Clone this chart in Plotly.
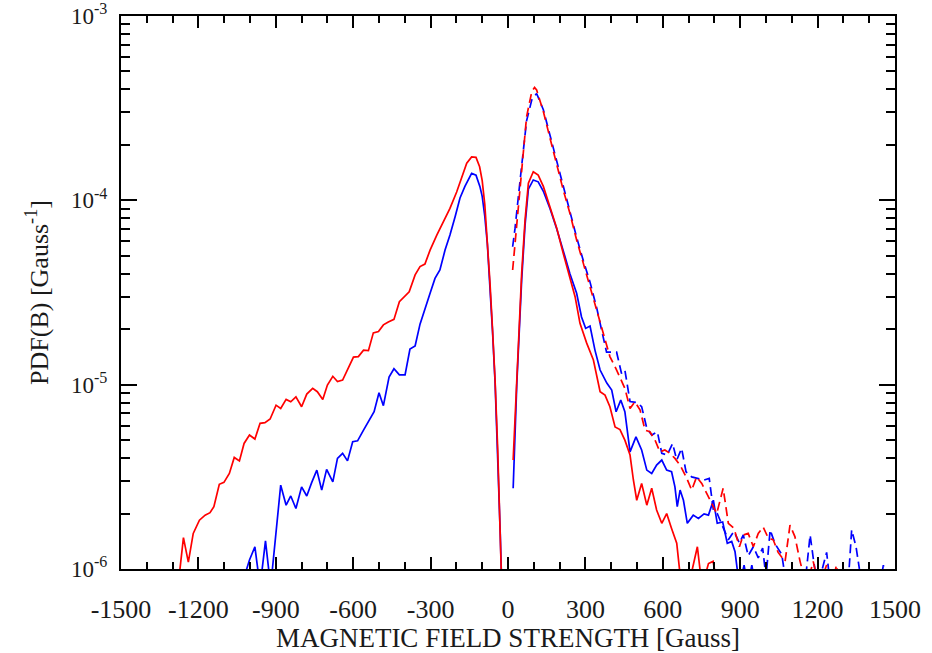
import plotly.graph_objects as go

# ---------------- data ----------------
# solid red: negative-field branch
red_neg_b = [-1275, -1258, -1239, -1220, -1196, -1174, -1155, -1140, -1119, -1101,
             -1080, -1061, -1041, -1023, -1002, -981, -961, -942, -922, -899,
             -881, -860, -842, -822, -800, -780, -757, -739, -718, -700,
             -679, -661, -641, -619, -599, -580, -560, -541, -522, -502,
             -483, -464, -442, -421, -403, -383, -360, -341, -322, -302,
             -276, -250, -225, -199, -179, -160, -141, -124, -110, -100,
             -90, -80, -70, -60, -50, -40, -30, -20]
red_neg_pdf = [9e-7, 1.48e-6, 1.09e-6, 1.56e-6, 1.84e-6, 1.96e-6, 2.02e-6, 2.18e-6, 2.88e-6, 2.95e-6,
               3.30e-6, 4.03e-6, 3.86e-6, 4.80e-6, 5.33e-6, 5.07e-6, 6.17e-6, 6.22e-6, 6.51e-6, 7.74e-6,
               7.43e-6, 8.32e-6, 8.07e-6, 8.59e-6, 7.59e-6, 8.89e-6, 9.55e-6, 9.16e-6, 8.32e-6, 9.95e-6,
               1.11e-5, 1.04e-5, 1.06e-5, 1.23e-5, 1.41e-5, 1.42e-5, 1.54e-5, 1.53e-5, 1.91e-5, 1.94e-5,
               2.11e-5, 2.19e-5, 2.26e-5, 2.82e-5, 3.00e-5, 3.19e-5, 3.94e-5, 4.37e-5, 4.51e-5, 5.37e-5,
               6.48e-5, 7.66e-5, 9.04e-5, 1.11e-4, 1.32e-4, 1.59e-4, 1.72e-4, 1.71e-4, 1.52e-4, 1.28e-4,
               9.5e-5, 6.2e-5, 3.6e-5, 2.0e-5, 1.05e-5, 4.5e-6, 1.6e-6, 5e-7]

# solid red: positive-field branch
red_pos_b = [20, 34, 53, 66, 79, 98, 117, 137, 163, 189,
             214, 240, 260, 279, 305, 331, 357, 376, 395, 415,
             434, 453, 473, 486, 499, 518, 538, 557, 576, 596,
             615, 634, 654, 672, 699, 734, 752, 777, 795, 812]
red_pos_pdf = [3.9e-6, 1.15e-5, 4.02e-5, 7.8e-5, 1.24e-4, 1.43e-4, 1.37e-4, 1.19e-4, 9.2e-5, 7.05e-5,
               5.16e-5, 3.85e-5, 3.0e-5, 2.15e-5, 1.68e-5, 1.36e-5, 9.16e-6, 8.77e-6, 7.59e-6, 5.90e-6,
               5.71e-6, 5.0e-6, 4.15e-6, 3.04e-6, 2.36e-6, 2.91e-6, 2.22e-6, 2.74e-6, 2.09e-6, 1.77e-6,
               2.0e-6, 1.66e-6, 1.38e-6, 8e-7, 8e-7, 1.32e-6, 8e-7, 1.07e-6, 1.1e-6, 8e-7]

# solid blue: negative-field branch
blue_neg_b = [-1023, -1002, -981, -961, -940, -920, -881, -860, -842, -822,
              -800, -780, -761, -741, -722, -703, -679, -661, -641, -622,
              -602, -583, -560, -539, -519, -500, -483, -461, -442, -421,
              -399, -380, -360, -341, -322, -302, -283, -264, -244, -225,
              -205, -186, -167, -141, -124, -109, -100, -90, -80, -70,
              -60, -50, -40, -30, -20]
blue_neg_pdf = [9e-7, 1.12e-6, 1.32e-6, 8e-7, 1.42e-6, 8e-7, 2.85e-6, 2.22e-6, 2.49e-6, 2.13e-6,
                2.79e-6, 2.49e-6, 2.94e-6, 3.44e-6, 2.68e-6, 3.47e-6, 2.97e-6, 3.98e-6, 4.24e-6, 3.86e-6,
                4.90e-6, 4.96e-6, 5.67e-6, 6.43e-6, 7.13e-6, 9.04e-6, 7.69e-6, 1.10e-5, 1.22e-5, 1.13e-5,
                1.13e-5, 1.56e-5, 1.62e-5, 2.13e-5, 2.54e-5, 3.13e-5, 3.77e-5, 4.19e-5, 5.37e-5, 6.48e-5,
                8.15e-5, 1.03e-4, 1.19e-4, 1.40e-4, 1.37e-4, 1.19e-4, 1.05e-4, 8.2e-5, 5.8e-5, 3.5e-5,
                1.95e-5, 1.02e-5, 4.4e-6, 1.55e-6, 5e-7]

# solid blue: positive-field branch
blue_pos_b = [20, 34, 53, 66, 79, 98, 117, 137, 163, 189,
              221, 240, 266, 285, 301, 318, 337, 357, 383, 402,
              419, 437, 453, 473, 496, 518, 538, 557, 576, 596,
              615, 634, 647, 656, 667, 680, 695, 718, 738, 760,
              777, 796, 811, 832, 850, 867, 880, 897, 915, 930,
              945, 960]
blue_pos_pdf = [2.74e-6, 1.0e-5, 3.7e-5, 7.3e-5, 1.15e-4, 1.29e-4, 1.26e-4, 1.12e-4, 9.0e-5, 7.0e-5,
                4.94e-5, 4.0e-5, 3.13e-5, 2.33e-5, 2.02e-5, 2.08e-5, 1.54e-5, 1.2e-5, 1.02e-5, 9.35e-6,
                7.13e-6, 8.25e-6, 7.13e-6, 4.32e-6, 5.21e-6, 4.42e-6, 3.44e-6, 3.30e-6, 3.66e-6, 3.90e-6,
                3.44e-6, 3.37e-6, 2.79e-6, 2.18e-6, 2.68e-6, 2.36e-6, 1.77e-6, 1.96e-6, 1.88e-6, 1.99e-6,
                1.96e-6, 2.36e-6, 1.77e-6, 1.80e-6, 1.38e-6, 1.41e-6, 1.24e-6, 8e-7, 1.05e-6, 8e-7,
                1.05e-6, 8e-7]

# dashed red: positive field only
red_dash_b = [18, 27, 46, 59, 72, 92, 103, 111, 137, 163,
              189, 214, 240, 266, 292, 318, 344, 369, 395, 421,
              440, 453, 473, 492, 512, 531, 550, 570, 589, 608,
              628, 647, 667, 693, 712, 731, 751, 770, 790, 809,
              834, 854, 876, 897, 912, 931, 951, 970, 989, 1009,
              1028, 1047, 1074, 1093, 1112, 1132, 1157, 1183, 1205, 1235,
              1255, 1273, 1290]
red_dash_pdf = [4.19e-5, 5.85e-5, 1.14e-4, 1.72e-4, 2.84e-4, 3.88e-4, 4.1e-4, 3.97e-4, 3.03e-4, 2.17e-4,
                1.55e-4, 1.14e-4, 8.5e-5, 6.09e-5, 4.55e-5, 3.4e-5, 2.54e-5, 1.90e-5, 1.42e-5, 1.2e-5,
                1.06e-5, 9.55e-6, 7.43e-6, 8.07e-6, 7.28e-6, 5.67e-6, 5.55e-6, 5.0e-6, 4.32e-6, 4.42e-6,
                4.24e-6, 3.98e-6, 3.66e-6, 3.10e-6, 2.68e-6, 3.16e-6, 2.91e-6, 2.57e-6, 2.27e-6, 2.0e-6,
                2.74e-6, 1.77e-6, 1.66e-6, 1.32e-6, 1.53e-6, 1.56e-6, 1.32e-6, 1.56e-6, 1.69e-6, 1.47e-6,
                1.44e-6, 1.23e-6, 1.1e-6, 1.73e-6, 1.50e-6, 1.1e-6, 8e-7, 1.1e-6, 8e-7, 1.05e-6,
                8e-7, 1.05e-6, 8e-7]

# dashed blue: positive field only
blue_dash_b = [18, 27, 46, 59, 72, 92, 111, 137, 163, 189,
               214, 240, 266, 292, 318, 344, 369, 382, 402, 421,
               440, 453, 473, 499, 518, 538, 557, 579, 596, 617,
               638, 654, 673, 690, 712, 738, 760, 780, 796, 811,
               832, 854, 876, 897, 912, 931, 951, 970, 987, 1000,
               1016, 1035, 1061, 1080, 1100, 1120, 1150, 1171, 1183, 1200,
               1235, 1250, 1290, 1320, 1332, 1349, 1362, 1380, 1440, 1455,
               1465]
blue_dash_pdf = [5.6e-5, 7.0e-5, 1.25e-4, 1.8e-4, 2.7e-4, 3.5e-4, 3.8e-4, 3.1e-4, 2.25e-4, 1.6e-4,
                 1.18e-4, 8.8e-5, 6.3e-5, 4.7e-5, 3.6e-5, 2.6e-5, 1.85e-5, 1.5e-5, 1.5e-5, 1.5e-5,
                 1.15e-5, 1.2e-5, 8.1e-6, 8.0e-6, 7.6e-6, 5.8e-6, 5.33e-6, 5.55e-6, 4.24e-6, 4.15e-6,
                 4.8e-6, 3.9e-6, 4.51e-6, 3.37e-6, 3.16e-6, 3.10e-6, 3.04e-6, 3.10e-6, 2.09e-6, 2.0e-6,
                 1.69e-6, 1.44e-6, 1.6e-6, 1.38e-6, 1.53e-6, 1.18e-6, 1.32e-6, 1.15e-6, 1.3e-6, 9e-7,
                 1.63e-6, 1.37e-6, 1.2e-6, 8e-7, 8e-7, 1.0e-6, 8e-7, 1.53e-6, 1.15e-6, 8e-7,
                 1.23e-6, 8e-7, 8e-7, 9e-7, 1.63e-6, 1.32e-6, 1.0e-6, 8e-7, 8e-7, 1.05e-6,
                 8e-7]

x_tick_vals = [-1500, -1200, -900, -600, -300, 0, 300, 600, 900, 1200, 1500]
x_tick_text = ["-1500", "-1200", "-900", "-600", "-300", "0", "300", "600", "900", "1200", "1500"]
y_tick_vals = [1e-6, 1e-5, 1e-4, 1e-3]
y_tick_text = ["10<sup>-6</sup>", "10<sup>-5</sup>", "10<sup>-4</sup>", "10<sup>-3</sup>"]
y_minor_vals = [m * 10.0 ** e for e in (-6, -5, -4) for m in range(2, 10)]

x_title = "MAGNETIC FIELD STRENGTH [Gauss]"
y_title = "PDF(B) [Gauss<sup>-1</sup>]"

# ---------------- figure ----------------
RED = "#ff0000"
BLUE = "#0000ff"
LW = 1.7
DASH = "9px,5px"

fig = go.Figure()
fig.add_trace(go.Scatter(x=blue_neg_b + [None] + blue_pos_b,
                         y=blue_neg_pdf + [None] + blue_pos_pdf,
                         mode="lines", line=dict(color=BLUE, width=LW), connectgaps=False))
fig.add_trace(go.Scatter(x=blue_dash_b, y=blue_dash_pdf,
                         mode="lines", line=dict(color=BLUE, width=LW, dash=DASH)))
fig.add_trace(go.Scatter(x=red_neg_b + [None] + red_pos_b,
                         y=red_neg_pdf + [None] + red_pos_pdf,
                         mode="lines", line=dict(color=RED, width=LW), connectgaps=False))
fig.add_trace(go.Scatter(x=red_dash_b, y=red_dash_pdf,
                         mode="lines", line=dict(color=RED, width=LW, dash=DASH)))

FONT = "Liberation Serif"
TEXT = "#1a1a1a"
fig.update_layout(
    width=932, height=653,
    margin=dict(l=121, r=37, t=16, b=84, autoexpand=False),
    paper_bgcolor="white", plot_bgcolor="white",
    showlegend=False,
    font=dict(family=FONT, size=26, color=TEXT),
)
fig.update_xaxes(
    range=[-1500, 1500], tickmode="array", tickvals=x_tick_vals, ticktext=x_tick_text,
    ticks="inside", ticklen=12, tickwidth=2, tickcolor="black",
    minor=dict(dtick=100, tick0=0, ticks="inside", ticklen=7, tickwidth=2, tickcolor="black"),
    showline=True, linewidth=2, linecolor="black", mirror="ticks",
    showgrid=False, zeroline=False,
    ticklabelstandoff=16, ticklabeloverflow="allow",
    title=dict(text=x_title, standoff=2, font=dict(family=FONT, size=27, color=TEXT)),
    tickfont=dict(family=FONT, size=26, color=TEXT),
)
fig.update_yaxes(
    type="log", range=[-6, -3], tickmode="array", tickvals=y_tick_vals, ticktext=y_tick_text,
    ticks="inside", ticklen=16, tickwidth=2, tickcolor="black",
    minor=dict(tickvals=y_minor_vals, ticks="inside", ticklen=9, tickwidth=2, tickcolor="black"),
    showline=True, linewidth=2, linecolor="black", mirror="ticks",
    showgrid=False, zeroline=False,
    ticklabelstandoff=7, ticklabeloverflow="allow",
    title=dict(text=y_title, standoff=15, font=dict(family=FONT, size=26, color=TEXT)),
    tickfont=dict(family=FONT, size=23, color=TEXT),
)

fig.write_html("out.html")
